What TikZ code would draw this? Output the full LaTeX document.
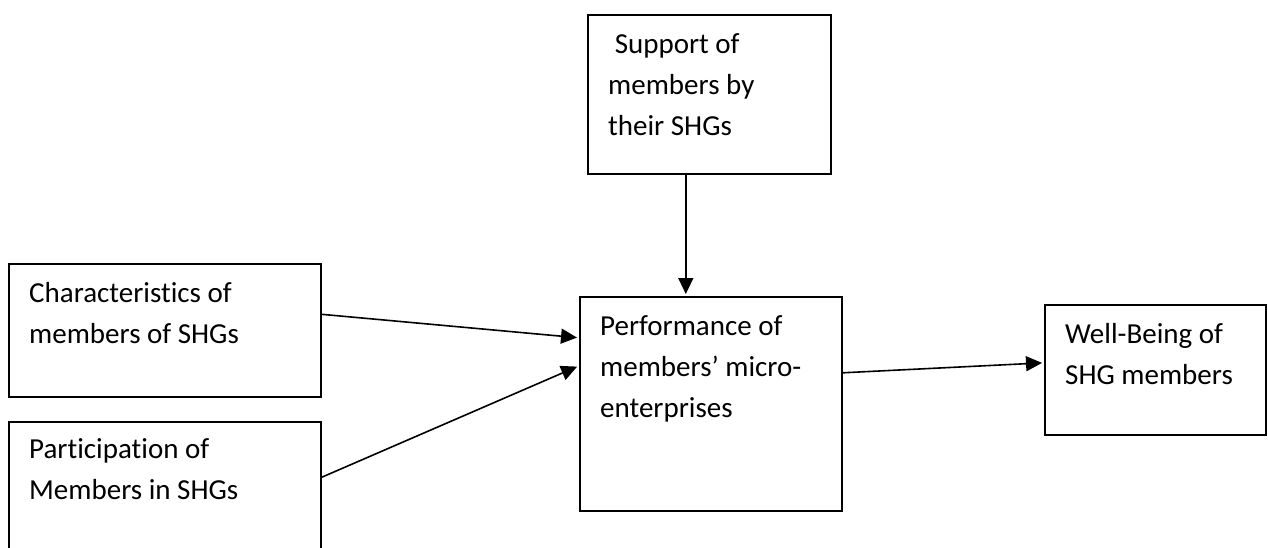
\documentclass[tikz,border=0pt]{standalone}
\usepackage{fontspec}
\setmainfont{Carlito}[Ligatures=NoCommon]
\usepackage{tikz}
\usetikzlibrary{arrows.meta}

\begin{document}
\begin{tikzpicture}[x=1pt,y=-1pt,
	box/.style={draw,line width=1.6pt,inner sep=0pt,anchor=north west},
	txt/.style={inner sep=0pt,anchor=north west,align=left,font=\fontsize{29}{41}\selectfont},
	>={Triangle[length=16pt,width=15pt]}]
	\clip (0,0) rectangle (1268,547);
	% boxes
	\node[box,minimum width=243pt,minimum height=159pt] (sup) at (587,14) {};
	\node[box,minimum width=312pt,minimum height=133pt] (chr) at (8,263) {};
	\node[box,minimum width=312pt,minimum height=140pt] (par) at (8,421) {};
	\node[box,minimum width=262pt,minimum height=214pt] (perf) at (579,296) {};
	\node[box,minimum width=221pt,minimum height=130pt] (well) at (1044,304) {};
	% texts
	\node[txt] (sup-t) at (608,24.3) {\strut\ Support of\\members by\\their SHGs};
	\node[txt] (chr-t) at (29,273.3) {\strut Characteristics of\\members of SHGs};
	\node[txt] (par-t) at (29,429.3) {\strut Participation of\\Members in SHGs};
	\node[txt] (perf-t) at (600,306.3) {\strut Performance of\\members’ micro-\\enterprises};
	\node[txt] (well-t) at (1065,314.3) {\strut Well-Being of\\SHG members};
	%
	\coordinate (s-top) at ([xshift=-23.5pt]sup.south);
	\coordinate (s-end) at (s-top |- perf.north);
	\path[->,line width=1.6pt,shorten >=2pt]
	% into performance
	(s-top) edge (s-end)
	([yshift=16pt]chr.east) edge ([yshift=66pt]perf.west)
	([yshift=14.5pt]par.east) edge ([yshift=38pt]perf.west)
	% out of performance
	([yshift=31pt]perf.east) edge ([yshift=7pt]well.west);
\end{tikzpicture}
\end{document}
